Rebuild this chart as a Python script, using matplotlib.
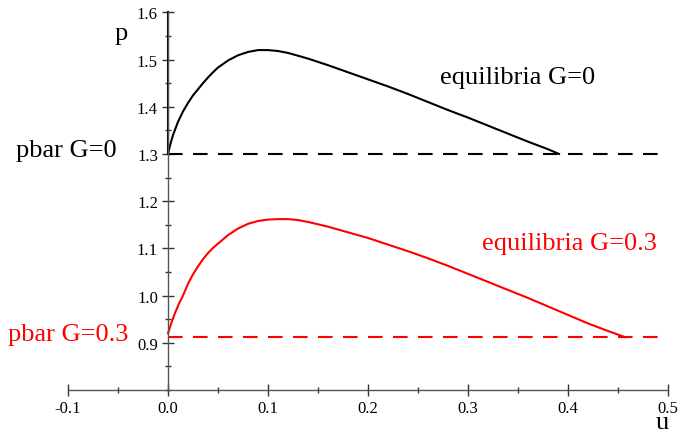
import matplotlib
matplotlib.use("Agg")
import matplotlib.pyplot as plt
from matplotlib.ticker import MultipleLocator

plt.rcParams['font.family'] = ['Liberation Serif', 'DejaVu Serif']

# equilibrium curve p(u) for G=0
u_g0 = [0.0, 0.002, 0.005, 0.010, 0.015, 0.020, 0.025, 0.030, 0.035, 0.040, 0.045,
        0.050, 0.060, 0.070, 0.080, 0.090, 0.100, 0.110, 0.120, 0.130, 0.140, 0.150,
        0.160, 0.180, 0.200, 0.220, 0.240, 0.260, 0.280, 0.300, 0.320, 0.340, 0.360,
        0.380, 0.391]
p_g0 = [1.300, 1.318, 1.340, 1.368, 1.390, 1.408, 1.424, 1.437, 1.450, 1.462, 1.473,
        1.483, 1.498, 1.509, 1.516, 1.520, 1.520, 1.518, 1.514, 1.508, 1.502, 1.495,
        1.488, 1.473, 1.458, 1.443, 1.427, 1.410, 1.393, 1.377, 1.360, 1.343, 1.326,
        1.310, 1.300]

# equilibrium curve p(u) for G=0.3
u_g3 = [0.0, 0.003, 0.007, 0.011, 0.015, 0.020, 0.025, 0.030, 0.035, 0.040, 0.045,
        0.050, 0.060, 0.070, 0.080, 0.090, 0.100, 0.110, 0.120, 0.130, 0.140, 0.150,
        0.160, 0.180, 0.200, 0.220, 0.240, 0.260, 0.280, 0.300, 0.320, 0.340, 0.360,
        0.380, 0.400, 0.420, 0.440, 0.457]
p_g3 = [0.920, 0.940, 0.963, 0.983, 1.000, 1.025, 1.045, 1.062, 1.077, 1.090, 1.101,
        1.110, 1.128, 1.142, 1.152, 1.158, 1.161, 1.162, 1.162, 1.160, 1.156, 1.151,
        1.146, 1.134, 1.122, 1.108, 1.094, 1.079, 1.063, 1.046, 1.029, 1.012, 0.995,
        0.977, 0.959, 0.941, 0.925, 0.912]

# trivial branch u=0 for G=0
u_axis_g0 = [0.0, 0.0]
p_axis_g0 = [1.3, 1.6]

# pbar levels
pbar_g0 = 1.3
pbar_g3 = 0.912
u_range = [0.0, 0.5]

fig = plt.figure(figsize=(6.82, 4.35), dpi=100)
ax = fig.add_axes([0.0997, 0.1011, 0.8798, 0.8683])
ax.set_xlim(-0.1, 0.5)
ax.set_ylim(0.8, 1.6)

# Maple-style axes crossing at u=0, p=0.8
ax.spines['left'].set_position(('data', 0))
ax.spines['top'].set_visible(False)
ax.spines['right'].set_visible(False)
for s in ('left', 'bottom'):
    ax.spines[s].set_color('#555555')
    ax.spines[s].set_linewidth(1.0)

ax.xaxis.set_major_locator(MultipleLocator(0.1))
ax.xaxis.set_minor_locator(MultipleLocator(0.05))
ax.yaxis.set_major_locator(MultipleLocator(0.1))
ax.yaxis.set_minor_locator(MultipleLocator(0.05))
ax.tick_params(which='major', direction='inout', length=8.5, width=1.0,
               color='#333333', labelsize=12, pad=3)
ax.tick_params(which='minor', direction='inout', length=5, width=1.0, color='#333333')
ax.set_yticks([0.9, 1.0, 1.1, 1.2, 1.3, 1.4, 1.5, 1.6])
ax.set_yticklabels(['0.9', '1.0', '1.1', '1.2', '1.3', '1.4', '1.5', '1.6'])
ax.set_xticks([-0.1, 0.0, 0.1, 0.2, 0.3, 0.4, 0.5])
ax.set_xticklabels(['-0.1', '0.0', '0.1', '0.2', '0.3', '0.4', '0.5'])

# curves
ax.plot(u_g0, p_g0, color='black', lw=1.5, clip_on=False)
ax.plot(u_axis_g0, p_axis_g0, color='black', lw=1.5, clip_on=False)
ax.plot(u_g3, p_g3, color='red', lw=1.5, clip_on=False)
ax.plot(u_range, [pbar_g0, pbar_g0], color='black', lw=1.5, ls=(0, (7, 5)), clip_on=False)
ax.plot(u_range, [pbar_g3, pbar_g3], color='red', lw=1.5, ls=(0, (7, 5)), clip_on=False)

# labels
ax.text(-0.047, 1.556, 'p', fontsize=19, ha='center', va='center')
ax.text(0.494, 0.732, 'u', fontsize=19, ha='center', va='center', clip_on=False)
ax.text(-0.051, 1.308, 'pbar G=0', fontsize=19, ha='right', va='center')
ax.text(-0.040, 0.918, 'pbar G=0.3', fontsize=19, ha='right', va='center', color='red')
ax.text(0.350, 1.463, 'equilibria G=0', fontsize=19, ha='center', va='center')
ax.text(0.401, 1.111, 'equilibria G=0.3', fontsize=19, ha='center', va='center', color='red')

fig.savefig('out.png')
